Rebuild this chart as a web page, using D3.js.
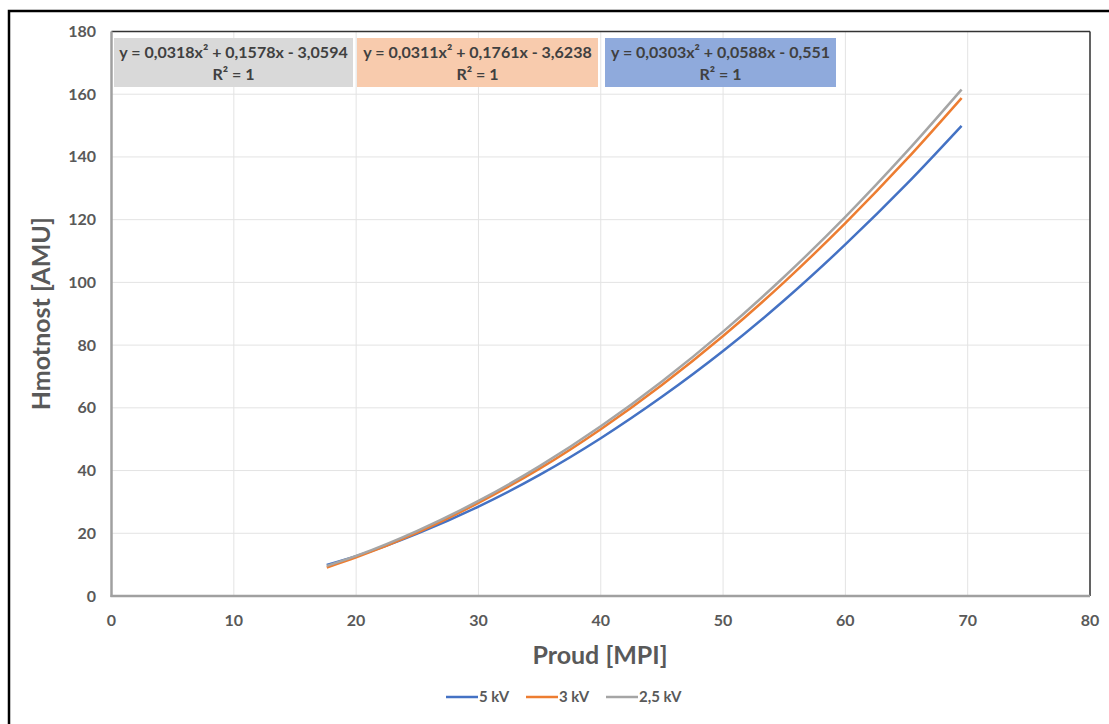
<!DOCTYPE html>
<meta charset='utf-8'>
<style>
  body { margin: 0; background: #fff; font-family: Lato, 'Open Sans', sans-serif; }
  .grid line { stroke: #e3e3e3; stroke-width: 1; }
  .tick-label { font-weight: bold; font-size: 16px; fill: #595959; }
  .axis-title { font-weight: bold; font-size: 25px; fill: #595959; }
  .eq { font-weight: bold; font-size: 16px; fill: #404040; }
  .legend text { font-weight: bold; font-size: 15px; fill: #595959; }
</style>
<body>
<script src='https://d3js.org/d3.v7.min.js'></script>
<script>
  // values
  const proud = [17.6, 20, 25, 30, 35, 40, 45, 50, 55, 60, 65, 69.5]
  const kv5 = [9.9, 12.7, 19.9, 28.5, 38.6, 50.3, 63.5, 78.1, 94.3, 112.1, 131.3, 149.9]
  const kv3 = [9.1, 12.3, 20.2, 29.7, 40.6, 53.2, 67.3, 82.9, 100.1, 118.9, 139.2, 158.8]
  const kv25 = [9.6, 12.8, 20.8, 30.3, 41.4, 54.1, 68.4, 84.3, 101.8, 120.9, 141.6, 161.5]

  const seriesNames = ['5 kV', '3 kV', '2,5 kV']
  const seriesColors = ['#4472c4', '#ed7d31', '#a5a5a5']
  const equations = [
    ['y = 0,0318x² + 0,1578x - 3,0594', 'R² = 1'],
    ['y = 0,0311x² + 0,1761x - 3,6238', 'R² = 1'],
    ['y = 0,0303x² + 0,0588x - 0,551', 'R² = 1']
  ]
  const eqColors = ['#d9d9d9', '#f8cbad', '#8faadc']
  const xTicks = [0, 10, 20, 30, 40, 50, 60, 70, 80]
  const yTicks = [0, 20, 40, 60, 80, 100, 120, 140, 160, 180]

  const W = 1109, H = 724
  const margin = {left: 111.5, right: 1090, top: 31.5, bottom: 596}

  const x = d3.scaleLinear().domain([0, 80]).range([margin.left, margin.right])
  const y = d3.scaleLinear().domain([0, 180]).range([margin.bottom, margin.top])

  const svg = d3.select('body').append('svg')
    .attr('width', W).attr('height', H)

  // outer frame
  svg.append('rect')
    .attr('x', 9).attr('y', 11)
    .attr('width', W + 10).attr('height', H + 10)
    .attr('fill', 'none').attr('stroke', '#000').attr('stroke-width', 2.5)

  // grid
  const grid = svg.append('g').attr('class', 'grid')
  grid.selectAll('.gx').data(xTicks).join('line')
    .attr('x1', d => x(d)).attr('x2', d => x(d))
    .attr('y1', y(0)).attr('y2', y(180))
  grid.selectAll('.gy').data(yTicks).join('line')
    .attr('y1', d => y(d)).attr('y2', d => y(d))
    .attr('x1', x(0)).attr('x2', x(80))

  // plot border: top/right dark, left/bottom grey axes
  svg.append('line').attr('x1', x(0)).attr('x2', x(80)).attr('y1', y(180)).attr('y2', y(180))
    .attr('stroke', '#333').attr('stroke-width', 1.5)
  svg.append('line').attr('x1', x(80)).attr('x2', x(80)).attr('y1', y(180)).attr('y2', y(0))
    .attr('stroke', '#333').attr('stroke-width', 1.5)
  svg.append('line').attr('x1', x(0)).attr('x2', x(0)).attr('y1', y(180)).attr('y2', y(0) + 1)
    .attr('stroke', '#a0a0a0').attr('stroke-width', 2.5)
  svg.append('line').attr('x1', x(0) - 1).attr('x2', x(80)).attr('y1', y(0)).attr('y2', y(0))
    .attr('stroke', '#a0a0a0').attr('stroke-width', 2.5)

  // tick labels
  svg.selectAll('.xl').data(xTicks).join('text')
    .attr('class', 'tick-label')
    .attr('x', d => x(d)).attr('y', 626)
    .attr('text-anchor', 'middle')
    .text(d => d)
  svg.selectAll('.yl').data(yTicks).join('text')
    .attr('class', 'tick-label')
    .attr('x', 96).attr('y', d => y(d) + 5.5)
    .attr('text-anchor', 'end')
    .text(d => d)

  // axis titles
  svg.append('text').attr('class', 'axis-title')
    .attr('x', 600).attr('y', 664).attr('text-anchor', 'middle')
    .text('Proud [MPI]')
  svg.append('text').attr('class', 'axis-title')
    .attr('transform', `translate(50, ${y(90)}) rotate(-90)`)
    .attr('text-anchor', 'middle')
    .text('Hmotnost [AMU]')

  // curves
  const series = [kv5, kv3, kv25]
  const line = d3.line()
    .x(d => x(d[0]))
    .y(d => y(d[1]))
    .curve(d3.curveMonotoneX)
  series.forEach((vals, i) => {
    svg.append('path')
      .datum(proud.map((p, j) => [p, vals[j]]))
      .attr('fill', 'none')
      .attr('stroke', seriesColors[i])
      .attr('stroke-width', 2.5)
      .attr('d', line)
  })

  // trendline equation boxes
  const boxes = [[114, 353], [357, 598], [605, 836]]
  equations.forEach((eq, i) => {
    const [bx0, bx1] = boxes[i]
    const g = svg.append('g')
    g.append('rect')
      .attr('x', bx0).attr('y', 38)
      .attr('width', bx1 - bx0).attr('height', 49)
      .attr('fill', eqColors[i])
    g.append('text').attr('class', 'eq')
      .attr('x', (bx0 + bx1) / 2).attr('y', 58)
      .attr('text-anchor', 'middle').text(eq[0])
    g.append('text').attr('class', 'eq')
      .attr('x', (bx0 + bx1) / 2).attr('y', 80)
      .attr('text-anchor', 'middle').text(eq[1])
  })

  // legend
  const legendX = [446, 526, 606]
  const legend = svg.append('g').attr('class', 'legend')
  seriesNames.forEach((name, i) => {
    legend.append('line')
      .attr('x1', legendX[i]).attr('x2', legendX[i] + 32)
      .attr('y1', 697).attr('y2', 697)
      .attr('stroke', seriesColors[i]).attr('stroke-width', 2.5)
    legend.append('text')
      .attr('x', legendX[i] + 33).attr('y', 702)
      .text(name)
  })
</script>
</body>
